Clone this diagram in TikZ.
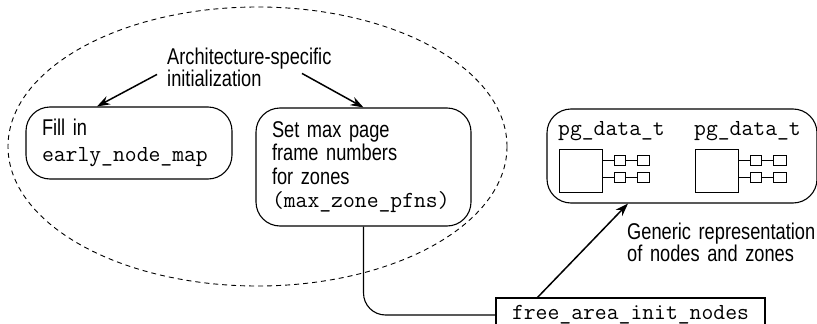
\documentclass[tikz,border=0pt]{standalone}
\usepackage{fontspec}
\setmainfont{Liberation Sans}[FakeStretch=0.80]
\usetikzlibrary{arrows.meta}
\newcommand{\mytt}{\fontsize{23}{23.5}\selectfont\ttfamily}
\begin{document}
\begin{tikzpicture}[x=1pt,y=-1pt,
  rbox/.style={draw, line width=1.1pt, rounded corners=24pt, inner xsep=16pt, inner ysep=0pt, align=left,
    font=\fontsize{22.8}{23.5}\selectfont},
  arr/.style={line width=1.5pt, -{Stealth[length=13pt,width=9pt]}},
  sq/.style={draw, line width=0.9pt, inner sep=0pt},
  lab/.style={font=\fontsize{22.8}{22}\selectfont, align=left, inner sep=0pt},
  mono/.style={font=\mytt, inner sep=0pt},
  thin/.style={line width=0.9pt},
  ]
\useasboundingbox (0,0) rectangle (817,324);
% dashed ellipse
\draw[line width=0.9pt, dash pattern=on 5pt off 4pt] (257.5,146.5) ellipse [x radius=249.5, y radius=139.5];
% labels
\node[lab, text width=190pt, anchor=base west] (arch) at (167,64) {Architecture-specific\\initialization};
\node[lab, text width=200pt, anchor=base west] (gen) at (627,239) {Generic representation\\of nodes and zones};
% boxes
\node[rbox, text width=174pt, minimum height=72pt] (b1) at (129,143)
  {Fill in\\[3pt]{\mytt early\_node\_map}};
\node[rbox, text width=183pt, minimum height=118pt] (b2) at (363.5,167)
  {Set max page\\frame numbers\\for zones\\{\mytt (max\_zone\_pfns)}};
\node[rbox, minimum width=270pt, minimum height=94pt] (pg) at (682,156) {};
\node[draw, line width=1.1pt, mono, minimum width=269pt, minimum height=34pt] (free) at (630.5,315) {free\_area\_init\_nodes};
% pg_data_t contents
\node[mono, anchor=base west] (pl1) at (558,135) {pg\_data\_t};
\node[mono, anchor=base west] (pl2) at (694,135) {pg\_data\_t};
\node[sq, minimum size=43pt] (big1) at (580.5,170.5) {};
\node[sq, minimum width=11pt, minimum height=10pt] (s11) at (619.5,160) {};
\node[sq, minimum width=12pt, minimum height=10pt] (s12) at (643,160) {};
\node[sq, minimum width=11pt, minimum height=10pt] (s13) at (619.5,177) {};
\node[sq, minimum width=12pt, minimum height=10pt] (s14) at (643,177) {};
\node[sq, minimum size=43pt] (big2) at (716.5,170.5) {};
\node[sq, minimum width=11pt, minimum height=10pt] (s21) at (755.5,160) {};
\node[sq, minimum width=13pt, minimum height=10pt] (s22) at (779.5,160) {};
\node[sq, minimum width=11pt, minimum height=10pt] (s23) at (755.5,177) {};
\node[sq, minimum width=13pt, minimum height=10pt] (s24) at (779.5,177) {};
\draw[thin] (big1.east |- s11) -- (s11) -- (s12);
\draw[thin] (big1.east |- s13) -- (s13) -- (s14);
\draw[thin] (big2.east |- s21) -- (s21) -- (s22);
\draw[thin] (big2.east |- s23) -- (s23) -- (s24);
% connectors
\draw[arr] ([shift={(-10,-12)}]arch.south west) -- ([xshift=-32pt]b1.north);
\draw[arr] ([shift={(135,-13)}]arch.south west) -- (b2.north);
\draw[line width=1.1pt, rounded corners=22pt] (b2.south) |- (free.west);
\draw[arr] ([xshift=-93pt]free.north) -- ([xshift=-54pt]pg.south);
\end{tikzpicture}
\end{document}
